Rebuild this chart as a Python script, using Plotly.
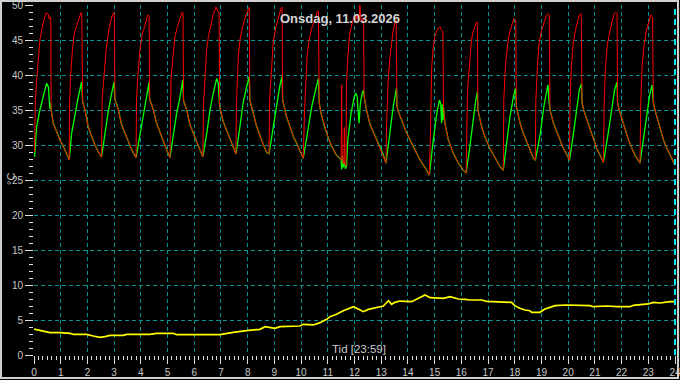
import plotly.graph_objects as go

# ---- data (time in hours, temperature in °C) ----
# heating phase of the red (supply) curve, one list per cycle
red_rise = [
    [(0.02, 29.0), (0.05, 36.4), (0.10, 39.3), (0.16, 42.4), (0.22, 45.0), (0.29, 46.4), (0.37, 47.9), (0.47, 48.9), (0.54, 48.6), (0.57, 48.0), (0.60, 48.3), (0.63, 48.0)],
    [(1.33, 36.0), (1.37, 39.8), (1.44, 43.6), (1.51, 46.0), (1.60, 47.1), (1.70, 48.1), (1.76, 48.9), (1.79, 48.7)],
    [(2.55, 36.4), (2.62, 40.1), (2.70, 43.6), (2.78, 46.0), (2.87, 47.7), (2.97, 48.9), (3.01, 48.7)],
    [(3.84, 36.4), (3.89, 40.1), (3.97, 43.6), (4.06, 46.0), (4.16, 47.1), (4.24, 48.4), (4.28, 48.6), (4.31, 48.3)],
    [(5.10, 36.0), (5.13, 39.5), (5.19, 42.1), (5.28, 45.5), (5.37, 46.9), (5.47, 48.1), (5.55, 49.0), (5.58, 48.8)],
    [(6.35, 36.0), (6.41, 41.2), (6.46, 43.6), (6.53, 45.5), (6.61, 47.1), (6.71, 48.6), (6.81, 49.7), (6.89, 49.0), (6.93, 48.8)],
    [(7.58, 36.0), (7.65, 42.6), (7.71, 45.0), (7.81, 46.9), (7.94, 48.6), (8.02, 49.5), (8.06, 49.7)],
    [(8.82, 36.4), (8.90, 41.2), (8.96, 44.8), (9.06, 46.9), (9.15, 48.3), (9.25, 49.5), (9.29, 49.7)],
    [(10.13, 35.0), (10.18, 38.6), (10.23, 42.9), (10.31, 45.2), (10.40, 46.7), (10.52, 47.9), (10.62, 49.2), (10.65, 49.0)],
    [(11.52, 38.6), (11.54, 27.6), (11.60, 27.3), (11.62, 32.5), (11.64, 27.2), (11.68, 27.0), (11.70, 38.8), (11.75, 42.6), (11.81, 45.5), (11.88, 46.9), (11.95, 47.9), (12.00, 48.6), (12.04, 47.5), (12.08, 48.6), (12.14, 47.9), (12.18, 48.3), (12.20, 50.0), (12.25, 47.6), (12.30, 48.1), (12.34, 48.0)],
    [(13.20, 33.0), (13.27, 39.8), (13.33, 42.6), (13.39, 45.0), (13.45, 46.4), (13.52, 47.6), (13.56, 47.9)],
    [(14.84, 31.0), (14.87, 38.0), (14.89, 41.2), (14.95, 44.0), (15.01, 45.5), (15.08, 46.4), (15.14, 46.7), (15.20, 46.9), (15.26, 46.4), (15.31, 46.2)],
    [(16.21, 34.0), (16.23, 37.5), (16.26, 39.3), (16.32, 43.0), (16.38, 45.0), (16.44, 46.2), (16.51, 46.9), (16.57, 47.6), (16.60, 47.4)],
    [(17.59, 36.4), (17.65, 41.2), (17.72, 44.0), (17.80, 46.0), (17.89, 47.1), (17.97, 48.1), (18.01, 47.9), (18.04, 47.8)],
    [(18.79, 36.4), (18.85, 41.2), (18.91, 44.5), (18.99, 46.2), (19.09, 47.6), (19.19, 48.6), (19.24, 48.8), (19.29, 48.6)],
    [(20.07, 36.4), (20.12, 41.2), (20.19, 44.5), (20.26, 46.2), (20.35, 47.6), (20.42, 48.6), (20.47, 48.8), (20.49, 48.6)],
    [(21.35, 36.4), (21.40, 41.2), (21.47, 44.5), (21.55, 46.2), (21.64, 47.6), (21.72, 48.7), (21.78, 49.0), (21.83, 48.8)],
    [(22.72, 36.4), (22.77, 41.2), (22.85, 44.5), (22.92, 46.2), (23.01, 47.6), (23.10, 48.6), (23.13, 48.4), (23.16, 48.3)],
]

# heating phase of the green (return) curve, one list per cycle
green_rise = [
    [(0.02, 28.3), (0.10, 32.6), (0.22, 35.0), (0.35, 37.1), (0.47, 38.8), (0.54, 38.3), (0.57, 36.6), (0.59, 35.2), (0.61, 36.0)],
    [(1.41, 31.7), (1.53, 34.5), (1.66, 36.9), (1.78, 39.0), (1.80, 37.0)],
    [(2.66, 31.7), (2.78, 34.8), (2.91, 37.4), (3.00, 39.0), (3.02, 37.0)],
    [(3.97, 31.7), (4.09, 34.5), (4.22, 36.9), (4.31, 39.0), (4.32, 37.0)],
    [(5.22, 31.7), (5.34, 34.5), (5.47, 36.9), (5.57, 39.3)],
    [(6.47, 31.7), (6.59, 35.0), (6.71, 37.4), (6.84, 39.5), (6.90, 38.8), (6.93, 36.0)],
    [(7.71, 32.6), (7.83, 36.0), (7.96, 38.3), (8.06, 39.8)],
    [(8.96, 32.6), (9.09, 36.0), (9.21, 38.6), (9.29, 39.8)],
    [(10.25, 32.0), (10.40, 35.5), (10.55, 38.0), (10.65, 39.5)],
    [(11.52, 26.5), (11.55, 28.5), (11.58, 26.8), (11.62, 27.6), (11.66, 26.6), (11.70, 27.0), (11.75, 30.7), (11.87, 34.5), (11.99, 36.9), (12.05, 37.4), (12.10, 36.9), (12.14, 34.5), (12.17, 33.1), (12.22, 36.0), (12.30, 37.6), (12.34, 37.8)],
    [(13.33, 31.7), (13.45, 35.5), (13.57, 38.1)],
    [(14.95, 30.7), (15.08, 34.5), (15.18, 36.4), (15.23, 35.9), (15.26, 33.1), (15.29, 35.8), (15.31, 33.5)],
    [(16.32, 29.8), (16.44, 33.6), (16.54, 36.4), (16.60, 37.6)],
    [(17.70, 30.2), (17.82, 34.0), (17.95, 36.9), (18.03, 38.1)],
    [(18.96, 31.7), (19.09, 35.5), (19.19, 37.9), (19.24, 38.6), (19.28, 36.4), (19.30, 35.5)],
    [(20.20, 31.7), (20.32, 35.5), (20.42, 37.9), (20.50, 38.8)],
    [(21.50, 31.7), (21.64, 35.5), (21.74, 37.9), (21.83, 39.0)],
    [(22.82, 30.7), (22.95, 34.5), (23.05, 37.1), (23.14, 38.6), (23.17, 37.0)],
]

# cooling phase where both curves run together, one list per cycle
cooling = [
    [(0.64, 35.0), (0.72, 33.1), (0.85, 31.9), (0.97, 30.7), (1.10, 29.8), (1.22, 28.7), (1.32, 27.9)],
    [(1.82, 36.2), (1.91, 35.0), (2.03, 32.6), (2.16, 31.2), (2.28, 30.0), (2.41, 29.0), (2.53, 28.3)],
    [(3.03, 36.5), (3.10, 35.8), (3.16, 35.0), (3.28, 32.9), (3.41, 31.7), (3.53, 30.5), (3.66, 29.3), (3.82, 28.2)],
    [(4.33, 36.5), (4.40, 35.8), (4.47, 35.0), (4.59, 33.1), (4.72, 31.7), (4.84, 30.5), (4.97, 29.3), (5.09, 28.2)],
    [(5.60, 36.3), (5.66, 35.6), (5.72, 35.0), (5.84, 32.9), (5.96, 31.7), (6.09, 30.5), (6.21, 29.3), (6.32, 28.3)],
    [(6.95, 35.5), (7.08, 33.4), (7.21, 32.1), (7.40, 30.2), (7.56, 28.7)],
    [(8.08, 36.4), (8.15, 35.5), (8.21, 34.5), (8.34, 32.6), (8.46, 31.2), (8.59, 30.0), (8.71, 29.0), (8.80, 28.7)],
    [(9.31, 36.4), (9.46, 34.0), (9.58, 32.6), (9.71, 31.2), (9.84, 30.2), (9.96, 29.0), (10.08, 28.1)],
    [(10.68, 36.0), (10.75, 34.5), (10.88, 32.6), (11.00, 31.2), (11.15, 29.8), (11.30, 28.7), (11.50, 27.9)],
    [(12.36, 37.0), (12.45, 35.0), (12.57, 33.1), (12.70, 31.9), (12.89, 30.2), (13.08, 28.6), (13.18, 27.4)],
    [(13.59, 35.5), (13.64, 34.8), (13.77, 33.6), (13.95, 31.7), (14.20, 29.8), (14.45, 27.9), (14.70, 26.4), (14.80, 25.7)],
    [(15.33, 35.5), (15.39, 33.0), (15.51, 30.8), (15.70, 28.8), (15.89, 27.4), (16.07, 26.4), (16.18, 26.0)],
    [(16.62, 35.0), (16.76, 32.6), (16.88, 31.2), (17.07, 29.5), (17.26, 28.1), (17.45, 26.9), (17.57, 26.4)],
    [(18.06, 35.5), (18.20, 33.1), (18.32, 31.7), (18.45, 30.5), (18.57, 29.3), (18.70, 28.1), (18.77, 27.8)],
    [(19.32, 35.0), (19.45, 33.1), (19.57, 31.9), (19.70, 30.7), (19.82, 29.5), (19.95, 28.6), (20.05, 27.8)],
    [(20.52, 36.0), (20.58, 35.0), (20.70, 33.6), (20.82, 32.2), (20.95, 30.7), (21.07, 29.5), (21.20, 28.5), (21.32, 27.5)],
    [(21.85, 36.0), (21.91, 35.0), (22.01, 33.8), (22.14, 32.2), (22.26, 30.7), (22.39, 29.5), (22.51, 28.5), (22.69, 27.4)],
    [(23.19, 36.0), (23.25, 35.0), (23.32, 34.0), (23.45, 32.4), (23.57, 30.7), (23.70, 29.5), (23.82, 28.5), (24.00, 27.1)],
]

# outdoor temperature (yellow)
outdoor_time = [0.0, 0.04, 0.22, 0.41, 0.6, 0.97, 1.35, 1.47, 1.97, 2.22, 2.47, 2.66, 2.84, 3.34, 3.47, 4.34,
                4.59, 5.22, 5.34, 6.96, 7.21, 7.46, 7.96, 8.46, 8.65, 9.02, 9.21, 9.96, 10.08, 10.46, 10.71,
                10.96, 11.08, 11.33, 11.58, 11.77, 11.96, 12.14, 12.33, 12.52, 12.83, 13.08, 13.27, 13.39,
                13.51, 13.7, 14.14, 14.33, 14.64, 14.83, 15.08, 15.33, 15.58, 15.89, 16.14, 16.32, 16.76,
                16.95, 17.88, 18.0, 18.19, 18.38, 18.57, 18.63, 18.94, 19.13, 19.32, 19.51, 19.94, 20.82,
                20.94, 21.44, 21.82, 22.32, 22.44, 23.0, 23.19, 23.44, 23.81, 24.0]
outdoor_temp = [3.7, 3.67, 3.48, 3.33, 3.19, 3.19, 3.1, 2.95, 2.95, 2.71, 2.52, 2.62, 2.81, 2.81, 2.95, 2.95,
                3.1, 3.1, 2.9, 2.9, 3.1, 3.24, 3.48, 3.67, 4.05, 3.81, 4.05, 4.14, 4.38, 4.29, 4.62,
                5.1, 5.48, 5.81, 6.33, 6.67, 6.9, 6.57, 6.19, 6.52, 6.76, 7.0, 7.76, 7.24,
                7.52, 7.71, 7.62, 7.95, 8.57, 8.19, 8.1, 8.1, 8.33, 8.0, 7.95, 7.86, 7.86,
                7.67, 7.52, 7.05, 6.67, 6.43, 6.33, 6.1, 6.1, 6.57, 6.81, 7.05, 7.14, 7.05,
                6.9, 7.0, 6.9, 6.9, 7.1, 7.29, 7.52, 7.43, 7.62, 7.62]

title_text = "Onsdag, 11.03.2026"
x_title = "Tid [23:59]"
y_title = "°C"

# ---- assemble series ----
def build(rises):
    pts = []
    for rise, cool in zip(rises, cooling):
        pts.extend(rise)
        pts.extend(cool)
    return [p[0] for p in pts], [p[1] for p in pts]

red_t, red_v = build(red_rise)
green_t, green_v = build(green_rise)

# ---- figure geometry (pixels) ----
W, H = 680, 380
ML, MR, MT, MB = 34, 5, 5, 25
PW, PH = W - ML - MR, H - MT - MB

def px(xp):
    return (xp - ML) / PW

def py(yp):
    return (H - MB - yp) / PH

fig = go.Figure()
fig.add_trace(go.Scatter(x=outdoor_time, y=outdoor_temp, mode="lines",
                         line=dict(color="#ffff00", width=1.7), hoverinfo="skip"))
fig.add_trace(go.Scatter(x=green_t, y=green_v, mode="lines",
                         line=dict(color="#00ff00", width=1.3), hoverinfo="skip"))
fig.add_trace(go.Scatter(x=red_t, y=red_v, mode="lines",
                         line=dict(color="#ff0000", width=1.0), hoverinfo="skip"))

axis_common = dict(
    ticks="outside", ticklen=8, tickwidth=1, tickcolor="#e0e0e0",
    showgrid=True, gridcolor="#009494", gridwidth=1, griddash="4px,3px",
    zeroline=False, showline=False, fixedrange=True, automargin=False,
    ticklabeloverflow="allow",
    tickfont=dict(family="Liberation Sans, Arial, sans-serif", size=10, color="#c8c8c8"),
)

fig.update_xaxes(range=[0, 24], tickmode="linear", tick0=0, dtick=1,
                 minor=dict(tick0=0, dtick=1 / 6, ticks="outside", ticklen=4,
                            tickcolor="#e0e0e0", showgrid=False),
                 **axis_common)
fig.update_yaxes(range=[0, 50], tickmode="linear", tick0=0, dtick=5,
                 minor=dict(tick0=0, dtick=1, ticks="outside", ticklen=4,
                            tickcolor="#e0e0e0", showgrid=False),
                 **axis_common)

fig.update_layout(
    width=W, height=H,
    margin=dict(l=ML, r=MR, t=MT, b=MB, autoexpand=False),
    paper_bgcolor="#000000", plot_bgcolor="#000000",
    showlegend=False, hovermode=False,
    font=dict(family="Liberation Sans, Arial, sans-serif", color="#c8c8c8"),
    annotations=[
        dict(text="<b>" + title_text + "</b>", xref="paper", yref="paper",
             x=px(340), y=py(18.5), showarrow=False, xanchor="center", yanchor="middle",
             font=dict(size=13, color="#d4d4d4")),
        dict(text=x_title, xref="paper", yref="paper",
             x=px(359), y=py(348.5), showarrow=False, xanchor="center", yanchor="middle",
             font=dict(size=11.5, color="#c8c8c8")),
        dict(text=y_title, xref="paper", yref="paper", textangle=-90,
             x=px(11), y=py(179), showarrow=False, xanchor="center", yanchor="middle",
             font=dict(size=11, color="#c8c8c8")),
    ],
    shapes=[
        dict(type="line", xref="paper", yref="paper", x0=1, x1=1, y0=0, y1=1,
             line=dict(color="#00e8f0", width=2, dash="6px,4px")),
        dict(type="rect", xref="paper", yref="paper",
             x0=px(1), x1=px(678), y0=py(378), y1=py(1),
             line=dict(color="#d0d0d0", width=2)),
    ],
)

fig.write_html(
    "out.html",
    config={"displayModeBar": False},
    post_script="document.body.style.margin='0';document.body.style.overflow='hidden';",
)
